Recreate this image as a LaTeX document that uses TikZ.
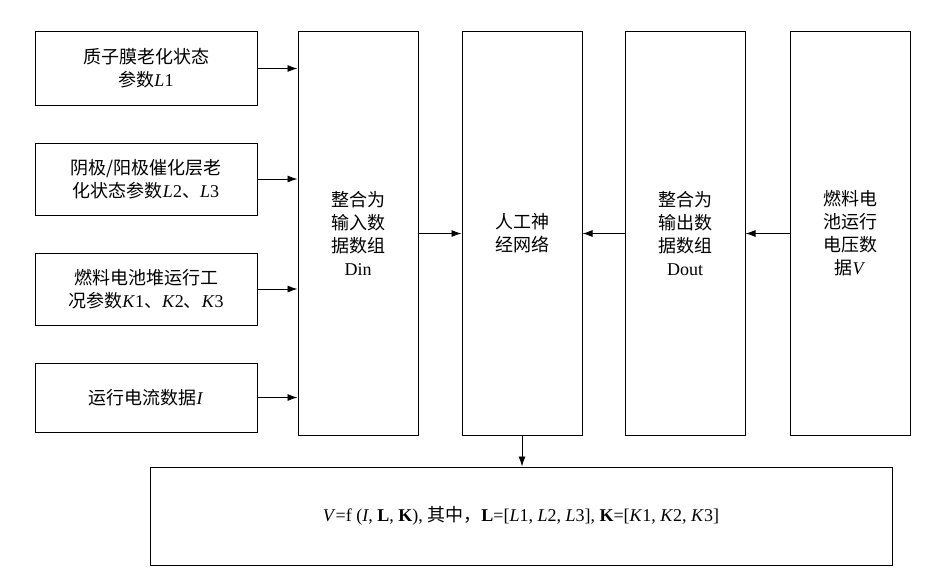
\documentclass[tikz,border=0pt]{standalone}
\usepackage{fontspec}
\setmainfont{Liberation Serif}
\newfontfamily\cjk{Noto Sans CJK SC}
\usetikzlibrary{arrows.meta}
\newcommand{\zh}[1]{{\cjk #1}}
\begin{document}
\begin{tikzpicture}[x=1pt,y=-1pt,
  box/.style={draw,line width=1pt,align=center,font=\fontsize{18}{23}\selectfont,inner sep=0pt},
  arr/.style={-{Latex[length=10pt,width=7pt]},line width=0.9pt}]
\useasboundingbox (0,0) rectangle (928,586);
\newcommand{\bx}[6]{\node[box,minimum width=#4-#2,minimum height=#5-#3] (#1) at ({(#2+#4)/2},{(#3+#5)/2}) {#6};}
\bx{a}{35}{32}{257}{105}{\zh{质子膜老化状态}\\\zh{参数}\textit{L}1}
\bx{b}{35}{143}{257}{215}{\zh{阴极/阳极催化层老}\\\zh{化状态参数}\textit{L}2\zh{、}\textit{L}3}
\bx{c}{35}{253}{257}{325}{\zh{燃料电池堆运行工}\\\zh{况参数}\textit{K}1\zh{、}\textit{K}2\zh{、}\textit{K}3}
\bx{d}{35}{363}{257}{432}{\zh{运行电流数据}\textit{I}}
\bx{din}{298}{32}{418}{435}{\zh{整合为}\\\zh{输入数}\\\zh{据数组}\\Din}
\bx{ann}{462}{32}{582}{435}{\zh{人工神}\\\zh{经网络}}
\bx{dout}{625}{32}{745}{435}{\zh{整合为}\\\zh{输出数}\\\zh{据数组}\\Dout}
\bx{v}{790}{32}{910}{435}{\zh{燃料电}\\\zh{池运行}\\\zh{电压数}\\\zh{据}\textit{V}}
\bx{f}{150}{467}{892}{565}{\textit{V}=f (\textit{I}, \textbf{L}, \textbf{K}), \zh{其中，}\textbf{L}=[\textit{L}1, \textit{L}2, \textit{L}3], \textbf{K}=[\textit{K}1, \textit{K}2, \textit{K}3]}
\draw[arr] (a.east) -- (a.east -| din.west);
\draw[arr] (b.east) -- (b.east -| din.west);
\draw[arr] (c.east) -- (c.east -| din.west);
\draw[arr] (d.east) -- (d.east -| din.west);
\draw[arr] (din.east) -- (ann.west);
\draw[arr] (dout.west) -- (ann.east);
\draw[arr] (v.west) -- (dout.east);
\draw[arr] (ann.south) -- (f.north -| ann.south);
\end{tikzpicture}
\end{document}
